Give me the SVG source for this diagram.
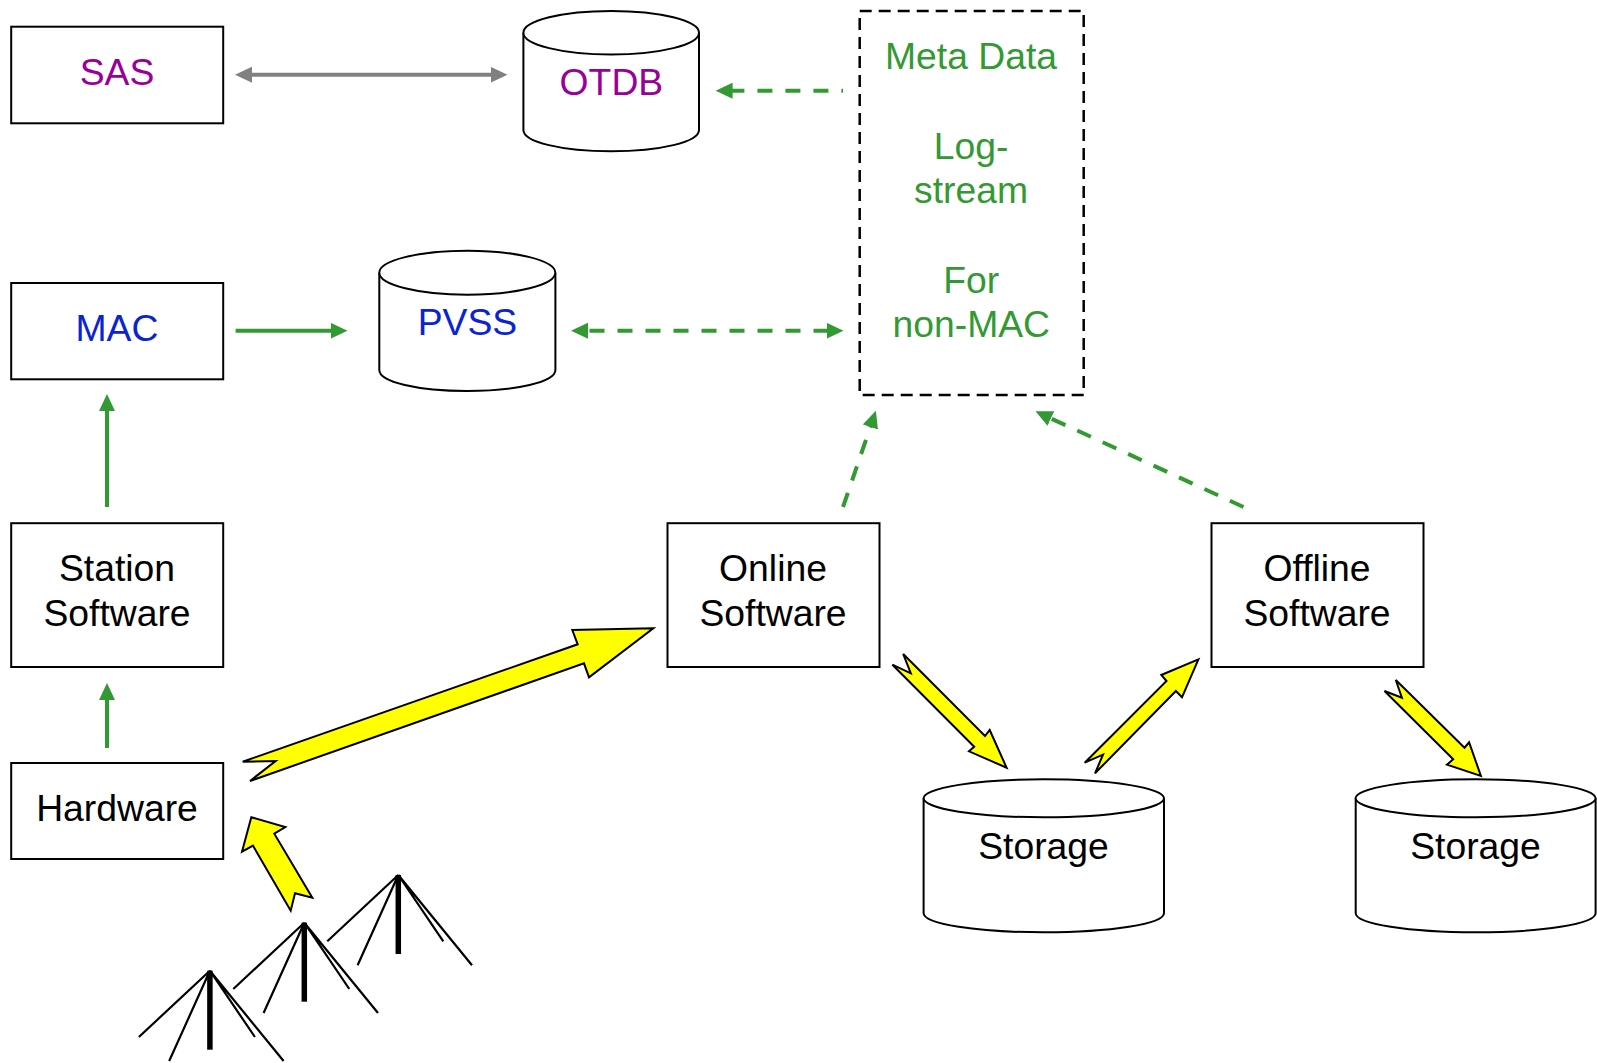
<svg xmlns="http://www.w3.org/2000/svg" width="1597" height="1063" viewBox="0 0 1597 1063">
<style>
text{font-family:"Liberation Sans",Arial,sans-serif;font-size:37.3px;text-anchor:middle;fill:#000}
.box{fill:#fff;stroke:#000;stroke-width:2}
.cyl{fill:#fff;stroke:#000;stroke-width:2}
.meta{fill:#fff;stroke:#000;stroke-width:2.5;stroke-dasharray:12 7}
.g{fill:#339933}
.p{fill:#990099}
.b{fill:#0b24d0}
.gl{fill:none;stroke:#339933;stroke-width:4}
.dash{stroke-dasharray:15 13}
.yl{fill:#ff0;stroke:#000;stroke-width:2;stroke-linejoin:miter}
.ant{stroke:#000;stroke-width:2.2;fill:none}
.pole{stroke:#000;stroke-width:5.5}
</style>
<defs>
<marker id="hg" markerUnits="userSpaceOnUse" markerWidth="18" markerHeight="16" refX="1" refY="8" orient="auto-start-reverse"><path d="M0 0L17 8L0 16z" fill="#339933"/></marker>
<marker id="hs" markerUnits="userSpaceOnUse" markerWidth="18" markerHeight="16" refX="1" refY="8" orient="auto-start-reverse"><path d="M0 0L17 8L0 16z" fill="#808080"/></marker>
<g id="antenna"><line class="pole" x1="0" y1="0" x2="0" y2="79"/><path class="ant" d="M-71 66.3L0 0L-40.7 90.3M0 0L45 66.3M0 0L73.7 90.3"/></g>
</defs>
<g id="connectors">
<line x1="251" y1="74.7" x2="491.5" y2="74.7" stroke="#808080" stroke-width="4" marker-start="url(#hs)" marker-end="url(#hs)"/>
<line class="gl dash" x1="731.6" y1="90.7" x2="843" y2="90.7" stroke-dashoffset="2.2" marker-start="url(#hg)"/>
<line class="gl" x1="235.6" y1="330.7" x2="331.5" y2="330.7" marker-end="url(#hg)"/>
<line class="gl dash" x1="587" y1="330.7" x2="827.5" y2="330.7" stroke-dashoffset="-2.5" marker-start="url(#hg)" marker-end="url(#hg)"/>
<line class="gl" x1="107" y1="507" x2="107" y2="410" marker-end="url(#hg)"/>
<line class="gl" x1="107" y1="748" x2="107" y2="699" marker-end="url(#hg)"/>
<line class="gl dash" x1="843" y1="507" x2="870.7" y2="426" marker-end="url(#hg)"/>
<line class="gl dash" x1="1243.5" y1="507" x2="1050" y2="418" marker-end="url(#hg)"/>
<polygon class="yl" points="653.3,628.3 572.3,630 577.7,644.3 242.7,761.7 275.7,761 250,781 584,663.3 589,677.3"/>
<polygon class="yl" points="251.3,817.3 285.3,827 274.3,833.7 312.3,897.7 295,893.3 290.7,910.7 253,845.7 242,851.7"/>
<polygon class="yl" points="903.2,654 910.8,673.3 892.4,664.7 974.2,746.7 969,751.3 1006.6,767.7 989.7,730 985,736"/>
<polygon class="yl" points="1198.4,659.3 1161.3,675 1166.5,681 1084.7,762.7 1103,754.7 1095,773.3 1175.9,691 1182,697.3"/>
<polygon class="yl" points="1395.8,680 1401.9,697.7 1384.5,691 1453.2,759.3 1447,764.7 1480.9,776 1469.1,742.3 1464.5,747.7"/>
</g>
<g id="sas"><rect class="box" x="11.2" y="26.7" width="212" height="96.6"/><text class="p" x="117" y="85">SAS</text></g>
<g id="otdb"><path class="cyl" d="M523.4 32.7V130C523.4 142 562 151.3 611 151.3S699 142 699 130V32.7"/><ellipse class="cyl" cx="611.2" cy="32.7" rx="87.8" ry="21.8"/><text class="p" x="611.4" y="95">OTDB</text></g>
<g id="mac"><rect class="box" x="11.2" y="283" width="212" height="96.3"/><text class="b" x="117" y="341">MAC</text></g>
<g id="pvss"><path class="cyl" d="M379.3 272.7V370C379.3 382 418 391 467 391S555.4 382 555.4 370V272.7"/><ellipse class="cyl" cx="467.3" cy="272.7" rx="88" ry="22"/><text class="b" x="467.5" y="335">PVSS</text></g>
<g id="metadata"><rect class="meta" x="859.7" y="11" width="224" height="384"/>
<text class="g" x="971" y="69">Meta Data</text><text class="g" x="971" y="159">Log-</text><text class="g" x="971" y="203">stream</text><text class="g" x="971.3" y="292.5">For</text><text class="g" x="971.3" y="337">non-MAC</text></g>
<g id="station"><rect class="box" x="11.2" y="523.2" width="212" height="143.8"/><text x="117" y="581">Station</text><text x="117" y="625.5">Software</text></g>
<g id="online"><rect class="box" x="667.5" y="523.2" width="212" height="143.8"/><text x="773" y="581">Online</text><text x="773" y="625.5">Software</text></g>
<g id="offline"><rect class="box" x="1211.5" y="523.2" width="212" height="143.8"/><text x="1317" y="581">Offline</text><text x="1317" y="625.5">Software</text></g>
<g id="hardware"><rect class="box" x="11.2" y="763" width="212" height="96"/><text x="117" y="821">Hardware</text></g>
<g id="storage1"><path class="cyl" d="M923.6 798.3V913.3C923.6 924 977 932.3 1043.7 932.3S1164 924 1164 913.3V798.3"/><ellipse class="cyl" cx="1043.8" cy="798.3" rx="120.2" ry="19"/><text x="1043.5" y="859">Storage</text></g>
<g id="storage2"><path class="cyl" d="M1355.7 798.3V913.3C1355.7 924 1409 932.3 1475.6 932.3S1595.6 924 1595.6 913.3V798.3"/><ellipse class="cyl" cx="1475.6" cy="798.3" rx="120" ry="19"/><text x="1475.5" y="859">Storage</text></g>
<g id="antennas"><use href="#antenna" x="398.3" y="875"/><use href="#antenna" x="304.3" y="922.7"/><use href="#antenna" x="209.9" y="970.7"/></g>
</svg>
